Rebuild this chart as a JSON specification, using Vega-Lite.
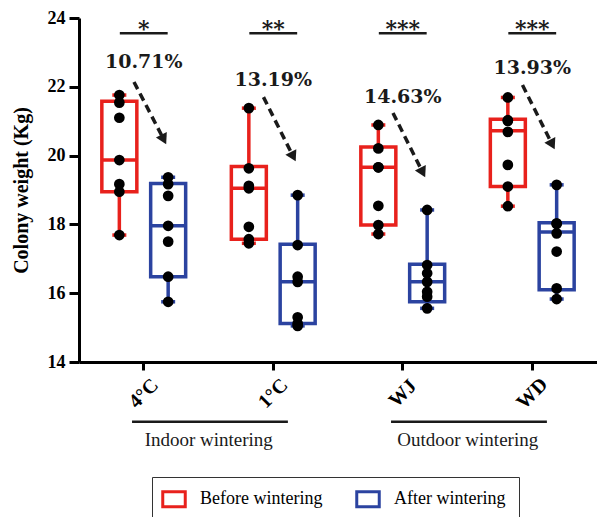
{
  "$schema": "https://vega.github.io/schema/vega-lite/v6.json",
  "width": 518,
  "height": 344,
  "autosize": "none",
  "padding": {"left": 79, "top": 18, "right": 0, "bottom": 155},
  "background": "white",
  "config": {
    "view": {"stroke": null},
    "font": "Liberation Serif, Times New Roman, serif",
    "axis": {"domainColor": "black", "domainWidth": 3, "tickColor": "black", "tickWidth": 3, "grid": false, "labelColor": "black", "labelFont": "Liberation Serif, Times New Roman, serif", "labelFontWeight": "bold", "labelFontSize": 18, "titleFont": "Liberation Serif, Times New Roman, serif", "titleFontWeight": "bold", "titleFontSize": 20, "titleColor": "black"},
    "axisY": {"tickSize": 10, "labelPadding": 4, "titlePadding": 16},
    "axisX": {"tickSize": 8, "labelAngle": -45, "labelAlign": "center", "labelBaseline": "middle", "labelPadding": 23, "labelOverlap": false, "labelFontSize": 20},
    "legend": {"orient": "none", "legendX": 73, "legendY": 459, "direction": "horizontal", "strokeColor": "#333333", "strokeWidth": 1, "padding": 13, "symbolType": "M-1.5,-1H1.5V1H-1.5Z", "symbolSize": 225, "symbolStrokeWidth": 3, "symbolFillColor": "white", "labelFont": "Liberation Serif, Times New Roman, serif", "labelFontSize": 18, "labelColor": "black", "labelOffset": 17, "columnPadding": 27}
  },
  "datasets": {
    "points": [
      {"group": "4°C", "period": "Before wintering", "value": 21.54},
      {"group": "4°C", "period": "Before wintering", "value": 21.76},
      {"group": "4°C", "period": "Before wintering", "value": 21.10},
      {"group": "4°C", "period": "Before wintering", "value": 19.87},
      {"group": "4°C", "period": "Before wintering", "value": 19.17},
      {"group": "4°C", "period": "Before wintering", "value": 18.95},
      {"group": "4°C", "period": "Before wintering", "value": 17.69},
      {"group": "4°C", "period": "After wintering", "value": 19.17},
      {"group": "4°C", "period": "After wintering", "value": 19.37},
      {"group": "4°C", "period": "After wintering", "value": 18.83},
      {"group": "4°C", "period": "After wintering", "value": 17.96},
      {"group": "4°C", "period": "After wintering", "value": 17.50},
      {"group": "4°C", "period": "After wintering", "value": 16.48},
      {"group": "4°C", "period": "After wintering", "value": 15.75},
      {"group": "1°C", "period": "Before wintering", "value": 21.38},
      {"group": "1°C", "period": "Before wintering", "value": 19.63},
      {"group": "1°C", "period": "Before wintering", "value": 19.12},
      {"group": "1°C", "period": "Before wintering", "value": 19.05},
      {"group": "1°C", "period": "Before wintering", "value": 17.93},
      {"group": "1°C", "period": "Before wintering", "value": 17.45},
      {"group": "1°C", "period": "Before wintering", "value": 17.57},
      {"group": "1°C", "period": "After wintering", "value": 18.85},
      {"group": "1°C", "period": "After wintering", "value": 17.40},
      {"group": "1°C", "period": "After wintering", "value": 16.48},
      {"group": "1°C", "period": "After wintering", "value": 16.33},
      {"group": "1°C", "period": "After wintering", "value": 15.30},
      {"group": "1°C", "period": "After wintering", "value": 15.12},
      {"group": "1°C", "period": "After wintering", "value": 15.05},
      {"group": "WJ", "period": "Before wintering", "value": 20.89},
      {"group": "WJ", "period": "Before wintering", "value": 20.21},
      {"group": "WJ", "period": "Before wintering", "value": 19.66},
      {"group": "WJ", "period": "Before wintering", "value": 19.66},
      {"group": "WJ", "period": "Before wintering", "value": 18.54},
      {"group": "WJ", "period": "Before wintering", "value": 17.98},
      {"group": "WJ", "period": "Before wintering", "value": 17.72},
      {"group": "WJ", "period": "After wintering", "value": 18.42},
      {"group": "WJ", "period": "After wintering", "value": 16.82},
      {"group": "WJ", "period": "After wintering", "value": 16.58},
      {"group": "WJ", "period": "After wintering", "value": 16.33},
      {"group": "WJ", "period": "After wintering", "value": 16.04},
      {"group": "WJ", "period": "After wintering", "value": 15.90},
      {"group": "WJ", "period": "After wintering", "value": 15.56},
      {"group": "WD", "period": "Before wintering", "value": 21.69},
      {"group": "WD", "period": "Before wintering", "value": 21.01},
      {"group": "WD", "period": "Before wintering", "value": 21.03},
      {"group": "WD", "period": "Before wintering", "value": 20.69},
      {"group": "WD", "period": "Before wintering", "value": 19.73},
      {"group": "WD", "period": "Before wintering", "value": 19.10},
      {"group": "WD", "period": "Before wintering", "value": 18.53},
      {"group": "WD", "period": "After wintering", "value": 19.15},
      {"group": "WD", "period": "After wintering", "value": 18.03},
      {"group": "WD", "period": "After wintering", "value": 18.01},
      {"group": "WD", "period": "After wintering", "value": 17.74},
      {"group": "WD", "period": "After wintering", "value": 17.21},
      {"group": "WD", "period": "After wintering", "value": 16.14},
      {"group": "WD", "period": "After wintering", "value": 15.83}
    ],
    "boxes": [
      {"group": "4°C", "period": "Before wintering", "min": 17.69, "q1": 18.95, "median": 19.87, "q3": 21.58, "max": 21.76},
      {"group": "4°C", "period": "After wintering", "min": 15.75, "q1": 16.48, "median": 17.96, "q3": 19.19, "max": 19.37},
      {"group": "1°C", "period": "Before wintering", "min": 17.45, "q1": 17.57, "median": 19.05, "q3": 19.68, "max": 21.38},
      {"group": "1°C", "period": "After wintering", "min": 15.05, "q1": 15.12, "median": 16.33, "q3": 17.42, "max": 18.85},
      {"group": "WJ", "period": "Before wintering", "min": 17.72, "q1": 17.98, "median": 19.66, "q3": 20.25, "max": 20.89},
      {"group": "WJ", "period": "After wintering", "min": 15.56, "q1": 15.75, "median": 16.33, "q3": 16.84, "max": 18.42},
      {"group": "WD", "period": "Before wintering", "min": 18.53, "q1": 19.10, "median": 20.72, "q3": 21.06, "max": 21.69},
      {"group": "WD", "period": "After wintering", "min": 15.83, "q1": 16.10, "median": 17.78, "q3": 18.05, "max": 19.15}
    ],
    "annot": [
      {"group": "4°C", "pct": "10.71%", "pcty": 22.72, "stars": "*", "astart": 22.14, "aend": 20.47},
      {"group": "1°C", "pct": "13.19%", "pcty": 22.2, "stars": "**", "astart": 21.70, "aend": 19.97},
      {"group": "WJ", "pct": "14.63%", "pcty": 21.70, "stars": "***", "astart": 21.24, "aend": 19.51},
      {"group": "WD", "pct": "13.93%", "pcty": 22.55, "stars": "***", "astart": 22.05, "aend": 20.32}
    ],
    "cats": [
      {"label": "Indoor wintering", "from": "4°C", "to": "1°C"},
      {"label": "Outdoor wintering", "from": "WJ", "to": "WD"}
    ]
  },
  "layer": [
    {
      "data": {"name": "boxes"},
      "mark": {"type": "rule", "strokeWidth": 3.5},
      "encoding": {
        "x": {"field": "group", "type": "nominal", "sort": null, "title": null, "scale": {"domain": ["4°C", "1°C", "WJ", "WD"], "paddingInner": 0.246, "paddingOuter": 0.123}},
        "xOffset": {"field": "period", "type": "nominal", "scale": {"domain": ["Before wintering", "After wintering"], "paddingInner": 0, "paddingOuter": 0}},
        "y": {"field": "min", "type": "quantitative", "title": "Colony weight (Kg)", "scale": {"domain": [14, 24], "nice": false, "zero": false}, "axis": {"values": [14, 16, 18, 20, 22, 24]}},
        "y2": {"field": "q1"},
        "stroke": {"field": "period", "type": "nominal", "title": null, "scale": {"domain": ["Before wintering", "After wintering"], "range": ["#e8211c", "#2b43a0"]}}
      }
    },
    {
      "data": {"name": "boxes"},
      "mark": {"type": "rule", "strokeWidth": 3.5},
      "encoding": {
        "x": {"field": "group", "type": "nominal", "sort": null, "title": null},
        "xOffset": {"field": "period", "type": "nominal"},
        "y": {"field": "q3", "type": "quantitative", "title": "Colony weight (Kg)", "scale": {"domain": [14, 24], "nice": false, "zero": false}},
        "y2": {"field": "max"},
        "stroke": {"field": "period", "type": "nominal", "title": null}
      }
    },
    {
      "data": {"name": "boxes"},
      "mark": {"type": "bar", "width": 35, "filled": false, "strokeWidth": 3.5, "opacity": 1},
      "encoding": {
        "x": {"field": "group", "type": "nominal", "sort": null, "title": null},
        "xOffset": {"field": "period", "type": "nominal"},
        "y": {"field": "q1", "type": "quantitative", "title": "Colony weight (Kg)", "scale": {"domain": [14, 24], "nice": false, "zero": false}},
        "y2": {"field": "q3"},
        "stroke": {"field": "period", "type": "nominal", "title": null}
      }
    },
    {
      "data": {"name": "boxes"},
      "mark": {"type": "tick", "size": 33, "thickness": 1.5, "strokeWidth": 2, "filled": false, "orient": "horizontal", "opacity": 1},
      "encoding": {
        "x": {"field": "group", "type": "nominal", "sort": null, "title": null},
        "xOffset": {"field": "period", "type": "nominal"},
        "y": {"field": "median", "type": "quantitative", "title": "Colony weight (Kg)", "scale": {"domain": [14, 24], "nice": false, "zero": false}},
        "stroke": {"field": "period", "type": "nominal", "title": null}
      }
    },
    {
      "data": {"name": "boxes"},
      "mark": {"type": "tick", "size": 12, "thickness": 1.5, "strokeWidth": 2, "filled": false, "orient": "horizontal", "opacity": 1},
      "encoding": {
        "x": {"field": "group", "type": "nominal", "sort": null, "title": null},
        "xOffset": {"field": "period", "type": "nominal"},
        "y": {"field": "min", "type": "quantitative", "title": "Colony weight (Kg)", "scale": {"domain": [14, 24], "nice": false, "zero": false}},
        "stroke": {"field": "period", "type": "nominal", "title": null}
      }
    },
    {
      "data": {"name": "boxes"},
      "mark": {"type": "tick", "size": 12, "thickness": 1.5, "strokeWidth": 2, "filled": false, "orient": "horizontal", "opacity": 1},
      "encoding": {
        "x": {"field": "group", "type": "nominal", "sort": null, "title": null},
        "xOffset": {"field": "period", "type": "nominal"},
        "y": {"field": "max", "type": "quantitative", "title": "Colony weight (Kg)", "scale": {"domain": [14, 24], "nice": false, "zero": false}},
        "stroke": {"field": "period", "type": "nominal", "title": null}
      }
    },
    {
      "data": {"name": "points"},
      "mark": {"type": "point", "filled": true, "color": "black", "size": 115, "opacity": 1},
      "encoding": {
        "x": {"field": "group", "type": "nominal", "sort": null, "title": null},
        "xOffset": {"field": "period", "type": "nominal"},
        "y": {"field": "value", "type": "quantitative", "title": "Colony weight (Kg)", "scale": {"domain": [14, 24], "nice": false, "zero": false}}
      }
    },
    {
      "data": {"name": "annot"},
      "mark": {"type": "text", "font": "DejaVu Serif", "fontWeight": "bold", "fontSize": 22, "baseline": "alphabetic", "align": "center", "color": "#1a1a1a"},
      "encoding": {
        "x": {"field": "group", "type": "nominal", "sort": null, "title": null},
        "y": {"datum": 23.48, "type": "quantitative", "title": "Colony weight (Kg)", "scale": {"domain": [14, 24], "nice": false, "zero": false}},
        "text": {"field": "stars"}
      }
    },
    {
      "data": {"name": "annot"},
      "mark": {"type": "rule", "strokeWidth": 2.5, "color": "#1a1a1a"},
      "encoding": {
        "x": {"field": "group", "type": "nominal", "sort": null, "title": null, "bandPosition": 0.255},
        "x2": {"field": "group", "bandPosition": 0.745},
        "y": {"datum": 23.56, "type": "quantitative", "title": "Colony weight (Kg)", "scale": {"domain": [14, 24], "nice": false, "zero": false}}
      }
    },
    {
      "data": {"name": "annot"},
      "mark": {"type": "text", "font": "DejaVu Serif", "fontWeight": "bold", "fontSize": 19, "baseline": "middle", "align": "center", "color": "#1a1a1a"},
      "encoding": {
        "x": {"field": "group", "type": "nominal", "sort": null, "title": null},
        "y": {"field": "pcty", "type": "quantitative", "title": "Colony weight (Kg)", "scale": {"domain": [14, 24], "nice": false, "zero": false}},
        "text": {"field": "pct"}
      }
    },
    {
      "data": {"name": "annot"},
      "mark": {"type": "rule", "strokeWidth": 3.5, "strokeDash": [8, 5], "color": "#1a1a1a"},
      "encoding": {
        "x": {"field": "group", "type": "nominal", "sort": null, "title": null, "bandPosition": 0.40},
        "x2": {"field": "group", "bandPosition": 0.705},
        "y": {"field": "astart", "type": "quantitative", "title": "Colony weight (Kg)", "scale": {"domain": [14, 24], "nice": false, "zero": false}},
        "y2": {"field": "aend"}
      }
    },
    {
      "data": {"name": "annot"},
      "mark": {"type": "point", "shape": "triangle-down", "angle": 333, "filled": true, "color": "#1a1a1a", "size": 150, "opacity": 1},
      "encoding": {
        "x": {"field": "group", "type": "nominal", "sort": null, "title": null, "bandPosition": 0.705},
        "y": {"field": "aend", "type": "quantitative", "title": "Colony weight (Kg)", "scale": {"domain": [14, 24], "nice": false, "zero": false}}
      }
    },
    {
      "data": {"name": "cats"},
      "mark": {"type": "rule", "strokeWidth": 2.5, "color": "#1a1a1a"},
      "encoding": {
        "x": {"field": "from", "type": "nominal", "sort": null, "title": null, "bandPosition": 0.38},
        "x2": {"field": "to", "bandPosition": 0.65},
        "y": {"datum": 12.26, "type": "quantitative", "title": "Colony weight (Kg)", "scale": {"domain": [14, 24], "nice": false, "zero": false}}
      }
    },
    {
      "data": {"name": "cats"},
      "mark": {"type": "text", "font": "Liberation Serif, Times New Roman, serif", "fontSize": 19, "baseline": "middle", "align": "center", "dx": 65, "color": "#1a1a1a"},
      "encoding": {
        "x": {"field": "from", "type": "nominal", "sort": null, "title": null},
        "y": {"datum": 11.73, "type": "quantitative", "title": "Colony weight (Kg)", "scale": {"domain": [14, 24], "nice": false, "zero": false}},
        "text": {"field": "label"}
      }
    }
  ]
}
